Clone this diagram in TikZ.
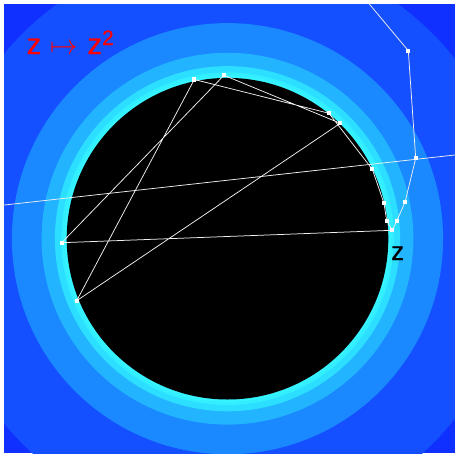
\documentclass[tikz,border=0pt]{standalone}
\usepackage{fontspec}
\usepackage{graphicx}
\setmainfont{Liberation Sans}
\newfontfamily\boldish[FakeBold=0.6]{Liberation Sans}
\begin{document}
\begin{tikzpicture}[x=1pt,y=-1pt,
  orbit/.style={draw=white!88!gray,line width=0.75pt},
  mk/.style={fill=white,draw=none,rectangle,minimum size=4.2pt,inner sep=0pt},
  ring/.style={draw=none}]
\definecolor{c0}{RGB}{16,48,255}
\definecolor{c1}{RGB}{20,80,255}
\definecolor{c2}{RGB}{26,136,255}
\definecolor{c3}{RGB}{34,180,255}
\definecolor{c4}{RGB}{44,222,255}
\definecolor{c5}{RGB}{50,238,255}
\definecolor{c6}{RGB}{54,244,255}
\useasboundingbox (0,0) rectangle (455,453);
\fill[white] (0,0) rectangle (455,453);
\begin{scope}
\clip (4,4) rectangle (455,453);
\coordinate (O) at (227.5,238.7);
\fill[c0] (4,4) rectangle (455,453);
\fill[c1] (O) circle[radius=290pt];
\fill[c2] (O) circle[radius=215.6pt];
\fill[c3] (O) circle[radius=185.9pt];
\fill[c4] (O) circle[radius=172.6pt];
\fill[c5] (O) circle[radius=166.3pt];
\fill[c6] (O) circle[radius=163.3pt];
\fill[black] (O) circle[radius=160.8pt];
% orbit points
\coordinate (z0) at (392.3,230.3);
\coordinate (p1) at (386.7,220.7);
\coordinate (p2) at (384,203.3);
\coordinate (p3) at (372.3,169.3);
\coordinate (p4) at (329,113.3);
\coordinate (p5) at (194.3,79.5);
\coordinate (p6) at (76.7,300.7);
\coordinate (p7) at (340.3,123.3);
\coordinate (p8) at (224,75.3);
\coordinate (p9) at (61.7,242.7);
\coordinate (q1) at (396.7,221);
\coordinate (q2) at (405,202.3);
\coordinate (q3) at (415.7,158.3);
\coordinate (q4) at (408.3,50.7);
\coordinate (q5) at (330,-43);
\coordinate (la) at (-10,206.6);
\coordinate (lb) at (470,153.3);
\draw[orbit] (z0) -- (p1) -- (p2) -- (p3) -- (p4) -- (p5) -- (p6) -- (p7) -- (p8) -- (p9) -- (z0)
  -- (q1) -- (q2) -- (q3) -- (q4) -- (q5);
\draw[orbit] (la) -- (lb);
\foreach \p/\n in {z0/m0,p1/m1,p2/m2,p3/m3,p4/m4,p5/m5,p6/m6,p7/m7,p8/m8,p9/m9,q1/n1,q2/n2,q3/n3,q4/n4}
  \node[mk] (\n) at (\p) {};
\end{scope}
\node[anchor=base west,inner sep=0pt,text=red,font=\boldish\fontsize{29}{32}\selectfont] (title) at (26.5,54)
  {z\hspace{9.5pt}\scalebox{1.1}[1.15]{\fontsize{27}{30}\selectfont$\mapsto$}\hspace{9.5pt}z\raisebox{9pt}{\fontsize{21}{24}\selectfont 2}};
\node[anchor=base west,inner sep=0pt,text=black,font=\boldish\fontsize{26}{30}\selectfont] (zlab) at (391,260) {z};
\end{tikzpicture}
\end{document}
